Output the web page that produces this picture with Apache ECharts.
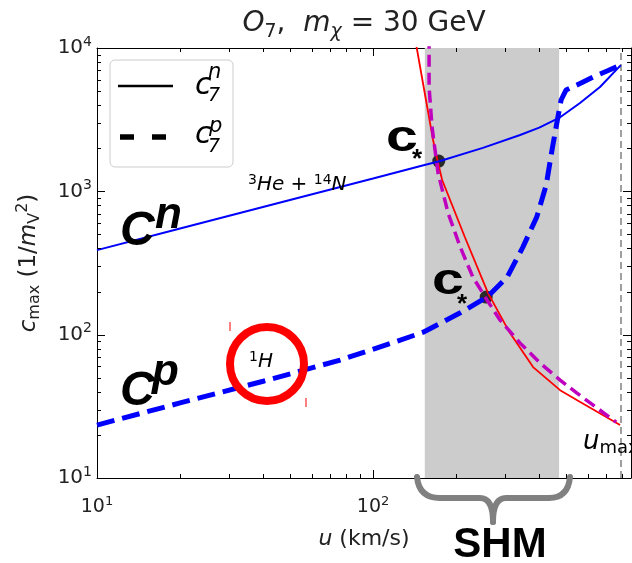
<!DOCTYPE html>
<html>
<head>
<meta charset="utf-8">
<script src="https://cdn.jsdelivr.net/npm/echarts@6/dist/echarts.min.js"></script>
<style>
  html, body { margin: 0; padding: 0; background: #fff; }
  #chart { width: 632px; height: 563px; }
</style>
</head>
<body>
<div id="chart"></div>
<script>
// c_max vs u, O7 operator, m_chi = 30 GeV
const uN = [10, 20, 50, 100, 150, 175, 250, 341, 400, 472, 562, 664, 790];
const cN = [389, 550, 870, 1230, 1510, 1626, 2010, 2470, 2780, 3250, 4130, 5340, 7600];

const uP = [10, 20, 40, 76, 120, 152, 207, 259, 306, 349, 392, 424, 445, 464, 480, 500, 548, 627, 704, 790];
const cP = [23.4, 33.4, 47.3, 66.5, 89, 104, 142, 183, 252, 408, 663, 1107, 1941, 3045, 4336, 5090, 5520, 6280, 6910, 7610];

// red solid and magenta dashed bounds
const uRed = [140, 144, 165, 171, 178, 215, 261, 313, 380, 476, 563, 785];
const cRed = [13500, 10000, 2280, 1653, 1200, 480, 195, 103, 59.4, 41.0, 33.9, 23.4];

const uMag = [159.6, 159.6, 163.6, 167.7, 172, 187, 207, 230, 259, 288, 341, 403, 476, 548, 760];
const cMag = [12000, 5340, 2810, 1940, 1342, 706, 408, 252, 174, 127, 87.3, 63.4, 48.2, 39.1, 24.5];

const cStar = [[173, 1626], [257, 183]];
const shmBand = [154, 472];
const uMax = 792;

const xMajor = [10, 100];
const xMinor = [20, 30, 40, 50, 60, 70, 80, 90, 200, 300, 400, 500, 600, 700, 800];
const yMajor = [10, 100, 1000, 10000];
const yMinor = [20, 30, 40, 50, 60, 70, 80, 90, 200, 300, 400, 500, 600, 700, 800, 900,
  2000, 3000, 4000, 5000, 6000, 7000, 8000, 9000];
const xRange = [10, 860];
const yRange = [10, 10000];

const FONT = 'DejaVu Sans';
const ink = '#222';

const pairs = (xs, ys) => xs.map((x, i) => [x, ys[i]]);

const tickRich = (size) => ({
  b: { fontSize: size, fontFamily: FONT, color: ink, lineHeight: size + 6 },
  s: { fontSize: Math.round(size * 0.7), fontFamily: FONT, color: ink, verticalAlign: 'top', lineHeight: Math.round(size * 0.7) }
});
const powLabel = (v) => '{b|10}{s|' + Math.round(Math.log10(v)) + '}';

function axis(kind, pos, labelSize, margin, extra) {
  const range = kind === 'x' ? xRange : yRange;
  const ax = {
    type: 'log', logBase: 10, position: pos, min: range[0], max: range[1],
    axisLine: { show: true, onZero: false, lineStyle: { color: '#000', width: 1 } },
    axisTick: { show: false },
    axisLabel: { show: false },
    splitLine: { show: false }
  };
  if (labelSize) {
    ax.axisLabel = {
      show: true, customValues: kind === 'x' ? xMajor : yMajor, margin: margin,
      formatter: powLabel, rich: tickRich(labelSize)
    };
  }
  return Object.assign(ax, extra || {});
}

const txt = (x, y, text, font, more) => Object.assign({
  type: 'text', z: 110, x: x, y: y,
  style: { text: text, font: font, fill: '#000', textVerticalAlign: 'middle' }
}, more || {});
const curve = (x1, y1, cx, cy, x2, y2) => ({
  type: 'bezierCurve', z: 110,
  shape: { x1: x1, y1: y1, cpx1: cx, cpy1: cy, x2: x2, y2: y2 },
  style: { fill: 'none', stroke: '#808080', lineWidth: 6, lineCap: 'round' }
});
const seg = (x1, y1, x2, y2, stroke, w, dash) => ({
  type: 'line', z: 110, shape: { x1: x1, y1: y1, x2: x2, y2: y2 },
  style: { stroke: stroke, lineWidth: w, lineDash: dash || null, lineCap: 'butt' }
});

const chart = echarts.init(document.getElementById('chart'));

const option = {
  animation: false,
  backgroundColor: '#fff',
  title: {
    text: '{i|O}{d|7}{n|,  }{i|m}{di|χ}{n| = 30 GeV}',
    left: 364, top: 6, padding: 0, textAlign: 'center',
    textStyle: {
      fontWeight: 'normal',
      rich: {
        n: { fontSize: 28, fontFamily: FONT, fontWeight: 'normal', color: ink, lineHeight: 36 },
        i: { fontSize: 28, fontFamily: FONT, fontWeight: 'normal', fontStyle: 'italic', color: ink, lineHeight: 36 },
        d: { fontSize: 19, fontFamily: FONT, fontWeight: 'normal', color: ink, verticalAlign: 'bottom', lineHeight: 19 },
        di: { fontSize: 19, fontFamily: FONT, fontWeight: 'normal', fontStyle: 'italic', color: ink, verticalAlign: 'bottom', lineHeight: 19 }
      }
    }
  },
  grid: { left: 97, right: 1, top: 48, bottom: 85 },
  xAxis: [
    axis('x', 'bottom', 19, 17, {
      name: '{i|u}{n| (km/s)}', nameLocation: 'middle', nameGap: 50,
      nameTextStyle: {
        fontSize: 22, fontFamily: FONT, color: ink,
        rich: {
          n: { fontSize: 22, fontFamily: FONT, color: ink },
          i: { fontSize: 22, fontFamily: FONT, fontStyle: 'italic', color: ink }
        }
      }
    }),
    axis('x', 'top')
  ],
  yAxis: [
    axis('y', 'left', 20, 5, {
      name: '{i|c}{d|max}{n| (1/}{i|m}{d|V}{u|2}{n|)}', nameLocation: 'middle', nameGap: 54, nameRotate: 90,
      nameTextStyle: {
        fontSize: 23, fontFamily: FONT, color: ink,
        rich: {
          n: { fontSize: 23, fontFamily: FONT, color: ink, lineHeight: 28 },
          i: { fontSize: 23, fontFamily: FONT, fontStyle: 'italic', color: ink, lineHeight: 28 },
          d: { fontSize: 16, fontFamily: FONT, color: ink, verticalAlign: 'bottom', lineHeight: 16 },
          u: { fontSize: 16, fontFamily: FONT, color: ink, verticalAlign: 'top', lineHeight: 16 }
        }
      }
    }),
    axis('y', 'right')
  ],
  series: [
    {
      name: 'red', type: 'line', z: 3, data: pairs(uRed, cRed),
      showSymbol: false, smooth: false,
      lineStyle: { color: '#ff0000', width: 1.8 },
      markArea: {
        silent: true, itemStyle: { color: '#cccccc' },
        data: [[{ xAxis: shmBand[0] }, { xAxis: shmBand[1] }]]
      },
      markLine: {
        silent: true, symbol: 'none', label: { show: false },
        lineStyle: { color: '#808080', width: 1.5, type: [7, 4] },
        data: [{ xAxis: uMax }]
      }
    },
    {
      name: 'magenta', type: 'line', z: 4, data: pairs(uMag, cMag),
      showSymbol: false, smooth: false,
      lineStyle: { color: '#bf00bf', width: 3.5, type: [12, 6] }
    },
    {
      name: 'cstar', type: 'scatter', z: 2, data: cStar,
      symbolSize: 13, itemStyle: { color: '#000' }
    },
    {
      name: 'cn', type: 'line', z: 5, data: pairs(uN, cN),
      showSymbol: false, smooth: false,
      lineStyle: { color: '#0000ff', width: 2 }
    },
    {
      name: 'cp', type: 'line', z: 5, data: pairs(uP, cP),
      showSymbol: false, smooth: false,
      lineStyle: { color: '#0000ff', width: 5, type: [18, 8] }
    }
  ],
  graphic: [
    // legend box
    { type: 'rect', z: 100, shape: { x: 110, y: 60, width: 123, height: 107, r: 5 },
      style: { fill: 'rgba(255,255,255,0.85)', stroke: '#cccccc', lineWidth: 1 } },
    seg(118, 86, 173, 86, '#000', 2.5),
    seg(120, 137, 166, 137, '#000', 5.5, [14, 18]),
    txt(195, 86, 'c', 'italic 30px "DejaVu Sans"'),
    txt(208, 73, 'n', 'italic 21px "DejaVu Sans"'),
    txt(208, 96, '7', 'italic 19px "DejaVu Sans"'),
    txt(195, 135, 'c', 'italic 30px "DejaVu Sans"'),
    txt(209, 127, 'p', 'italic 21px "DejaVu Sans"'),
    txt(208, 147, '7', 'italic 19px "DejaVu Sans"'),

    // big curve names
    txt(120, 232, 'C', 'italic bold 48px "Liberation Sans"'),
    txt(155, 216, 'n', 'italic bold 44px "Liberation Sans"'),
    txt(120, 392, 'C', 'italic bold 48px "Liberation Sans"'),
    txt(152, 373, 'p', 'italic bold 44px "Liberation Sans"'),

    // c_* labels at the crossings
    txt(386, 139, 'c', 'bold 44px "Liberation Sans"', { scaleX: 1.3 }),
    txt(412, 160, '*', 'bold 26px "Liberation Sans"'),
    txt(432, 282, 'c', 'bold 44px "Liberation Sans"', { scaleX: 1.3 }),
    txt(457, 305, '*', 'bold 26px "Liberation Sans"'),

    // target labels
    { type: 'text', z: 110, x: 248, y: 185, style: {
      text: '{s|3}{t|He}{n| + }{s|14}{t|N}', textVerticalAlign: 'middle',
      rich: {
        t: { fontSize: 20, fontFamily: FONT, fontStyle: 'italic', color: ink, lineHeight: 24 },
        n: { fontSize: 20, fontFamily: FONT, color: ink, lineHeight: 24 },
        s: { fontSize: 14, fontFamily: FONT, color: ink, verticalAlign: 'top', lineHeight: 14 }
      } } },
    { type: 'text', z: 110, x: 249, y: 362, style: {
      text: '{s|1}{t|H}', textVerticalAlign: 'middle',
      rich: {
        t: { fontSize: 20, fontFamily: FONT, fontStyle: 'italic', color: ink, lineHeight: 24 },
        s: { fontSize: 14, fontFamily: FONT, color: ink, verticalAlign: 'top', lineHeight: 14 }
      } } },
    { type: 'circle', z: 110, shape: { cx: 267, cy: 364, r: 37 }, style: { fill: 'none', stroke: '#ff0000', lineWidth: 8 } },
    seg(230, 322, 230, 331, '#ff0000', 1),
    seg(306, 398, 306, 407, '#ff0000', 1),

    // u_max
    { type: 'text', z: 110, x: 583, y: 442, style: {
      text: '{t|u}{d|max}', textVerticalAlign: 'middle',
      rich: {
        t: { fontSize: 26, fontFamily: FONT, fontStyle: 'italic', color: ink, lineHeight: 30 },
        d: { fontSize: 18, fontFamily: FONT, color: ink, verticalAlign: 'bottom', lineHeight: 18 }
      } } },

    // SHM brace
    curve(417, 477, 419, 498, 440, 498),
    seg(440, 498, 480, 498, '#808080', 6),
    curve(480, 498, 493, 498, 493, 522),
    curve(493, 522, 493, 498, 506, 498),
    seg(506, 498, 549, 498, '#808080', 6),
    curve(549, 498, 568, 498, 570, 477),
    { type: 'text', z: 110, x: 500, y: 545, style: { text: 'SHM', font: 'bold 42px "Liberation Sans"', fill: '#000', textAlign: 'center', textVerticalAlign: 'middle' } }
  ]
};

chart.setOption(option);

// inward ticks on all four spines, placed through the axes' own log scales
(function addTicks() {
  const xPx = (v) => chart.convertToPixel({ xAxisIndex: 0 }, v);
  const yPx = (v) => chart.convertToPixel({ yAxisIndex: 0 }, v);
  const plotL = xPx(xRange[0]), plotR = xPx(xRange[1]);
  const plotT = yPx(yRange[1]), plotB = yPx(yRange[0]);
  const crisp = (p) => Math.round(p) + 0.5;
  const tick = (x1, y1, x2, y2) => ({
    type: 'line', z: 90, silent: true,
    shape: { x1: x1, y1: y1, x2: x2, y2: y2 },
    style: { stroke: '#000', lineWidth: 1 }
  });
  const marks = [];
  [[xMajor, 8], [xMinor, 4]].forEach(([vals, len]) => vals.forEach((v) => {
    const x = crisp(xPx(v));
    marks.push(tick(x, plotB, x, plotB - len), tick(x, plotT, x, plotT + len));
  }));
  [[yMajor, 8], [yMinor, 4]].forEach(([vals, len]) => vals.forEach((v) => {
    const y = crisp(yPx(v));
    marks.push(tick(plotL, y, plotL + len, y), tick(plotR, y, plotR - len, y));
  }));
  chart.setOption({ graphic: option.graphic.concat(marks) });
})();
</script>
</body>
</html>
